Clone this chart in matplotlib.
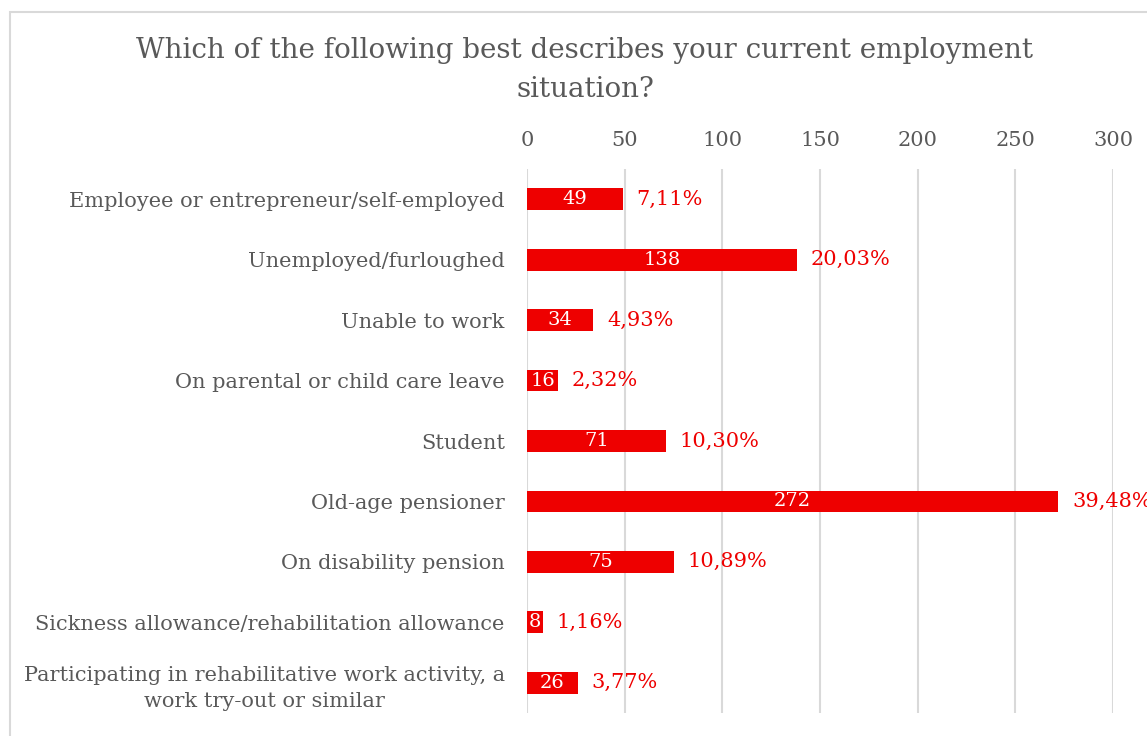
import matplotlib.pyplot as plt
from matplotlib.patches import Rectangle

# survey answers, top to bottom
categories = ['Employee or entrepreneur/self-employed',
              'Unemployed/furloughed',
              'Unable to work',
              'On parental or child care leave',
              'Student',
              'Old-age pensioner',
              'On disability pension',
              'Sickness allowance/rehabilitation allowance',
              'Participating in rehabilitative work activity, a\nwork try-out or similar']
counts = [49, 138, 34, 16, 71, 272, 75, 8, 26]
shares = ['7,11%', '20,03%', '4,93%', '2,32%', '10,30%', '39,48%', '10,89%', '1,16%', '3,77%']
xticks = [0, 50, 100, 150, 200, 250, 300]

red = '#ee0000'
grey = '#595959'
plt.rcParams['font.family'] = ['DejaVu Serif']

fig = plt.figure(figsize=(11.47, 7.36), dpi=100)
# chart frame
fig.patches.append(Rectangle((10 / 1147, -0.1), 1.2, 1 - 12 / 736 + 0.1, transform=fig.transFigure,
                             fill=False, edgecolor='#d9d9d9', linewidth=1.5))

ax = fig.add_axes([527 / 1147, 1 - 713 / 736, 586 / 1147, 544 / 736])
y = list(range(len(categories)))
ax.barh(y, counts, height=0.36, color=red, zorder=3)
for yi, c, s in zip(y, counts, shares):
    ax.text(c / 2, yi, str(c), color='white', ha='center', va='center', fontsize=14, zorder=4)
    ax.text(c + 7, yi, s, color=red, ha='left', va='center', fontsize=15, clip_on=False)

ax.set_xlim(0, 300)
ax.set_ylim(len(categories) - 0.5, -0.5)
ax.set_xticks(xticks)
ax.set_yticks(y)
ax.set_yticklabels(categories, fontsize=15, color=grey, ha='right', multialignment='center',
                   linespacing=1.5)
ax.xaxis.tick_top()
ax.tick_params(axis='x', length=0, labelsize=15, labelcolor=grey, pad=14)
ax.tick_params(axis='y', length=0, pad=16)
ax.grid(axis='x', color='#d9d9d9', linewidth=1.5, zorder=0)
for sp in ax.spines.values():
    sp.set_visible(False)

fig.text(585 / 1147, 1 - 70 / 736, 'Which of the following best describes your current employment\nsituation?',
         ha='center', va='center', fontsize=20, color=grey, linespacing=1.55)

fig.savefig('out.png', dpi=100)
